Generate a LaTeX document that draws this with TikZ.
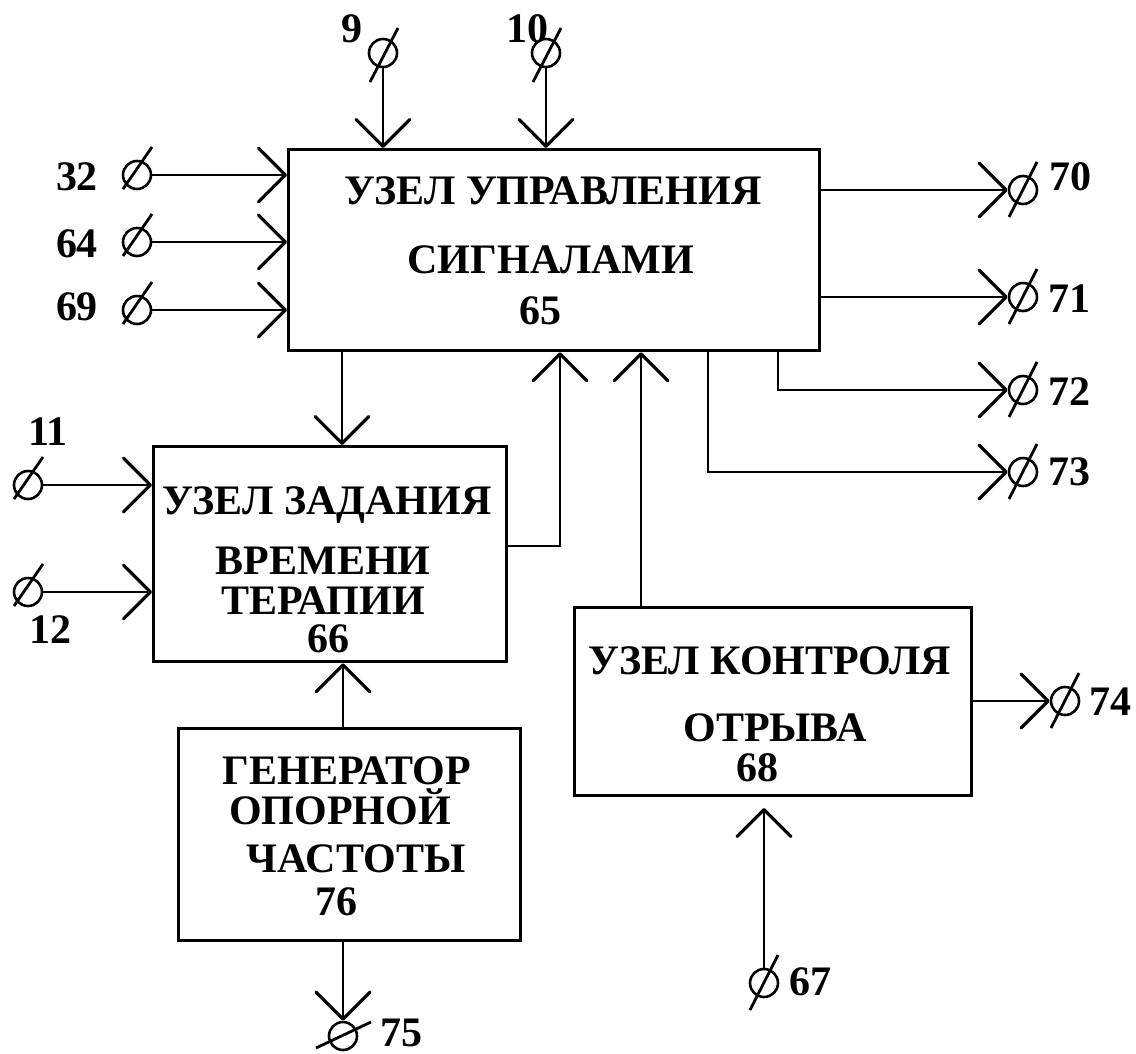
\documentclass[tikz,border=0pt]{standalone}
\usepackage{fontspec}
\setmainfont{Liberation Serif}
\usetikzlibrary{arrows.meta,calc}
\begin{document}
\begin{tikzpicture}[x=1pt,y=-1pt,
  box/.style={draw, line width=3.2pt, inner sep=0pt, anchor=north west},
  conn/.style={line width=2.8pt},
  arr/.style={conn, -{Straight Barb[length=27pt,width=54pt,line width=3.2pt,round]}},
  term/.style={circle, draw, line width=2.6pt, minimum size=28pt, inner sep=0pt},
  lbl/.style={font=\fontsize{42}{42}\selectfont\bfseries, inner sep=0pt, anchor=base},
  slash/.style={line width=2.8pt}]
\useasboundingbox (0,0) rectangle (1136,1053);

% boxes
\node[box, minimum width=531pt, minimum height=201pt] (b65) at (287,148) {};
\node[box, minimum width=353pt, minimum height=215pt] (b66) at (152,445) {};
\node[box, minimum width=342pt, minimum height=212pt] (b76) at (177,727) {};
\node[box, minimum width=397pt, minimum height=188pt] (b68) at (573,606) {};

% box texts
\node[lbl] (b65a) at (553,204) {УЗЕЛ УПРАВЛЕНИЯ};
\node[lbl] (b65b) at (551,273) {СИГНАЛАМИ};
\node[lbl] (b65c) at (540,324) {65};

\node[lbl] (b66a) at (327,514) {УЗЕЛ ЗАДАНИЯ};
\node[lbl] (b66b) at (323,574) {ВРЕМЕНИ};
\node[lbl] (b66c) at (323,614) {ТЕРАПИИ};
\node[lbl] (b66d) at (328,652) {66};

\node[lbl] (b76a) at (347,784) {ГЕНЕРАТОР};
\node[lbl] (b76b) at (340,824) {ОПОРНОЙ};
\node[lbl] (b76c) at (356,872) {ЧАСТОТЫ};
\node[lbl] (b76d) at (336,915) {76};

\node[lbl] (b68a) at (770,674) {УЗЕЛ КОНТРОЛЯ};
\node[lbl] (b68b) at (775,741) {ОТРЫВА};
\node[lbl] (b68c) at (757,781) {68};

% terminals
\foreach \n/\x/\y in {9/383/53, 10/546/53, 32/137/175, 64/137/242, 69/137/310,
  11/28/485, 12/28/592, 70/1023/190, 71/1023/297, 72/1023/390, 73/1023/472,
  74/1065/701, 67/764/983, 75/343/1036}
  \node[term] (t\n) at (\x,\y) {};

% slashes
\foreach \n in {9,10}
  \draw[slash] ($(t\n)+(-13,29)$) -- ($(t\n)+(15,-25)$);
\foreach \n in {32,64,69,11,12}
  \draw[slash] ($(t\n)+(-14,14)$) -- ($(t\n)+(15,-28)$);
\foreach \n in {70,71,72,73,74,67}
  \draw[slash] ($(t\n)+(-14,27)$) -- ($(t\n)+(14,-28)$);
\draw[slash] ($(t75)+(-27,12)$) -- ($(t75)+(28,-14)$);

% terminal labels
\node[lbl] (l9) at (352,42) {9};
\node[lbl] (l10) at (527,42) {10};
\node[lbl] (l32) at (77,190) {32};
\node[lbl] (l64) at (77,257) {64};
\node[lbl] (l69) at (77,320) {69};
\node[lbl] (l11) at (48,445) {11};
\node[lbl] (l12) at (50,643) {12};
\node[lbl] (l70) at (1070,190) {70};
\node[lbl] (l71) at (1069,312) {71};
\node[lbl] (l72) at (1069,405) {72};
\node[lbl] (l73) at (1069,485) {73};
\node[lbl] (l74) at (1110,715) {74};
\node[lbl] (l67) at (810,995) {67};
\node[lbl] (l75) at (401,1046) {75};

% helper coordinates
\coordinate (x72) at (778,0);
\coordinate (x73) at (708,0);
\coordinate (x342) at (342,0);
\coordinate (x343) at (343,0);
\coordinate (x560) at (560,0);
\coordinate (x641) at (641,0);
\coordinate (y546) at (0,546);
\coordinate (g67) at (764,808);

% connectors
\draw[arr] (t9) -- (t9 |- b65.north);
\draw[arr] (t10) -- (t10 |- b65.north);
\draw[arr] (t32) -- (t32 -| b65.west);
\draw[arr] (t64) -- (t64 -| b65.west);
\draw[arr] (t69) -- (t69 -| b65.west);
\draw[arr] (b65.east |- t70) -- (t70);
\draw[arr] (b65.east |- t71) -- (t71);
\draw[arr] (x72 |- b65.south) |- (t72);
\draw[arr] (x73 |- b65.south) |- (t73);
\draw[arr] (x342 |- b65.south) -- (x342 |- b66.north);
\draw[arr] (t11) -- (t11 -| b66.west);
\draw[arr] (t12) -- (t12 -| b66.west);
\draw[arr] (b66.east |- y546) -| (x560 |- b65.south);
\draw[arr] (x641 |- b68.north) -- (x641 |- b65.south);
\draw[arr] (x343 |- b76.north) -- (x343 |- b66.south);
\draw[arr] (x343 |- b76.south) -- (t75);
\draw[arr] (b68.east |- t74) -- (t74);
\draw[arr] (t67) -- (g67);
\end{tikzpicture}
\end{document}
